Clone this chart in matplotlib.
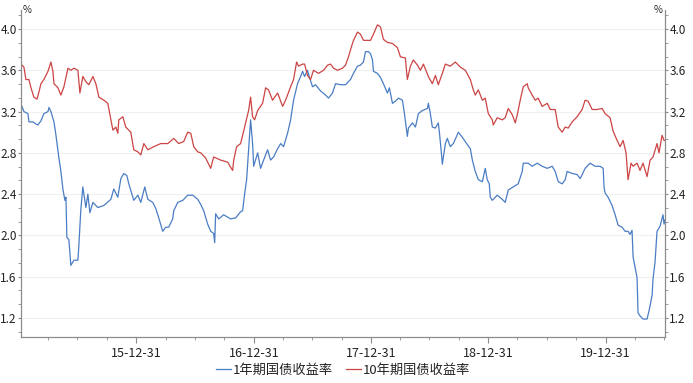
import numpy as np
import pandas as pd
import matplotlib
matplotlib.use("Agg")
import matplotlib.pyplot as plt
import matplotlib.dates as mdates
from matplotlib.ticker import MultipleLocator, FormatStrFormatter, FixedLocator
from matplotlib.lines import Line2D

plt.rcParams['font.family'] = ['Noto Sans CJK SC', 'DejaVu Sans']

# Dates as decimal years, yields in %
t_1y = [2015.021, 2015.038, 2015.072, 2015.081, 2015.115, 2015.140, 2015.157, 2015.183, 2015.208, 2015.243,
        2015.251, 2015.268, 2015.294, 2015.311, 2015.336, 2015.353, 2015.370, 2015.387, 2015.396, 2015.404,
        2015.421, 2015.438, 2015.464, 2015.498, 2015.506, 2015.523, 2015.540, 2015.549, 2015.566, 2015.583,
        2015.600, 2015.626, 2015.668, 2015.719, 2015.779, 2015.804, 2015.838, 2015.864, 2015.889, 2015.915,
        2015.932, 2015.974, 2016.009, 2016.034, 2016.068, 2016.094, 2016.136, 2016.162, 2016.187, 2016.221,
        2016.247, 2016.272, 2016.306, 2016.315, 2016.349, 2016.392, 2016.434, 2016.477, 2016.519, 2016.545,
        2016.570, 2016.604, 2016.630, 2016.655, 2016.664, 2016.672, 2016.698, 2016.740, 2016.800, 2016.843,
        2016.885, 2016.902, 2016.919, 2016.936, 2016.953, 2016.970, 2016.987, 2016.996, 2017.030, 2017.055,
        2017.081, 2017.115, 2017.140, 2017.166, 2017.200, 2017.226, 2017.251, 2017.285, 2017.311, 2017.336,
        2017.370, 2017.396, 2017.413, 2017.430, 2017.455, 2017.472, 2017.498, 2017.523, 2017.566, 2017.609,
        2017.634, 2017.668, 2017.694, 2017.736, 2017.779, 2017.821, 2017.847, 2017.881, 2017.906, 2017.932,
        2017.949, 2017.975, 2017.992, 2018.009, 2018.017, 2018.051, 2018.077, 2018.102, 2018.136, 2018.153,
        2018.179, 2018.204, 2018.230, 2018.264, 2018.281, 2018.306, 2018.315, 2018.349, 2018.375, 2018.400,
        2018.434, 2018.477, 2018.485, 2018.502, 2018.519, 2018.545, 2018.570, 2018.579, 2018.596, 2018.604,
        2018.630, 2018.647, 2018.672, 2018.698, 2018.741, 2018.775, 2018.817, 2018.843, 2018.860, 2018.885,
        2018.911, 2018.945, 2018.970, 2018.987, 2019.004, 2019.013, 2019.030, 2019.072, 2019.115, 2019.140,
        2019.166, 2019.209, 2019.251, 2019.285, 2019.294, 2019.336, 2019.370, 2019.413, 2019.455, 2019.498,
        2019.541, 2019.566, 2019.592, 2019.626, 2019.651, 2019.668, 2019.711, 2019.753, 2019.779, 2019.821,
        2019.864, 2019.906, 2019.949, 2019.975, 2019.983, 2019.992, 2020.017, 2020.051, 2020.077, 2020.102,
        2020.136, 2020.162, 2020.187, 2020.204, 2020.221, 2020.230, 2020.247, 2020.264, 2020.272, 2020.289,
        2020.315, 2020.349, 2020.366, 2020.392, 2020.400, 2020.417, 2020.434, 2020.460, 2020.485, 2020.494,
        2020.502]
yield_1y = [3.25, 3.20, 3.18, 3.10, 3.10, 3.08, 3.07, 3.11, 3.18, 3.20,
            3.24, 3.20, 3.10, 2.97, 2.75, 2.62, 2.45, 2.34, 2.37, 1.98,
            1.96, 1.71, 1.76, 1.76, 1.90, 2.25, 2.47, 2.40, 2.27, 2.40,
            2.22, 2.32, 2.27, 2.29, 2.35, 2.45, 2.37, 2.55, 2.60, 2.58,
            2.50, 2.34, 2.39, 2.32, 2.47, 2.35, 2.32, 2.26, 2.17, 2.04,
            2.08, 2.08, 2.16, 2.24, 2.32, 2.34, 2.39, 2.39, 2.35, 2.30,
            2.24, 2.11, 2.04, 2.02, 1.93, 2.21, 2.16, 2.20, 2.16, 2.17,
            2.23, 2.24, 2.40, 2.54, 2.83, 3.12, 2.89, 2.67, 2.80, 2.65,
            2.73, 2.83, 2.73, 2.76, 2.84, 2.89, 2.86, 2.99, 3.12, 3.31,
            3.47, 3.54, 3.59, 3.54, 3.60, 3.53, 3.44, 3.46, 3.40, 3.36,
            3.33, 3.38, 3.47, 3.46, 3.46, 3.51, 3.57, 3.64, 3.65, 3.68,
            3.78, 3.78, 3.76, 3.70, 3.59, 3.57, 3.53, 3.47, 3.38, 3.43,
            3.28, 3.30, 3.33, 3.31, 3.18, 2.96, 3.04, 3.09, 3.05, 3.18,
            3.21, 3.23, 3.28, 3.18, 3.05, 3.04, 3.09, 3.00, 2.80, 2.69,
            2.89, 2.94, 2.86, 2.89, 3.00, 2.95, 2.88, 2.84, 2.73, 2.62,
            2.54, 2.52, 2.65, 2.54, 2.50, 2.37, 2.34, 2.39, 2.35, 2.32,
            2.44, 2.47, 2.50, 2.62, 2.70, 2.70, 2.67, 2.70, 2.67, 2.65,
            2.67, 2.62, 2.52, 2.50, 2.54, 2.62, 2.60, 2.59, 2.55, 2.65,
            2.70, 2.67, 2.67, 2.65, 2.46, 2.41, 2.37, 2.29, 2.20, 2.10,
            2.08, 2.04, 2.04, 2.01, 2.05, 1.79, 1.69, 1.59, 1.25, 1.22,
            1.19, 1.19, 1.27, 1.42, 1.58, 1.74, 2.04, 2.09, 2.20, 2.11,
            2.15]

t_10y = [2015.021, 2015.038, 2015.055, 2015.081, 2015.098, 2015.123, 2015.149, 2015.166, 2015.183, 2015.208,
         2015.243, 2015.268, 2015.285, 2015.294, 2015.328, 2015.353, 2015.379, 2015.413, 2015.438, 2015.464,
         2015.498, 2015.515, 2015.540, 2015.566, 2015.591, 2015.626, 2015.651, 2015.677, 2015.719, 2015.753,
         2015.779, 2015.796, 2015.821, 2015.838, 2015.847, 2015.881, 2015.906, 2015.949, 2015.974, 2016.009,
         2016.034, 2016.060, 2016.094, 2016.145, 2016.204, 2016.264, 2016.315, 2016.357, 2016.400, 2016.434,
         2016.460, 2016.485, 2016.519, 2016.545, 2016.587, 2016.630, 2016.655, 2016.715, 2016.774, 2016.800,
         2016.817, 2016.826, 2016.851, 2016.885, 2016.928, 2016.953, 2016.970, 2016.987, 2017.004, 2017.030,
         2017.072, 2017.098, 2017.123, 2017.157, 2017.200, 2017.226, 2017.243, 2017.268, 2017.311, 2017.336,
         2017.362, 2017.379, 2017.413, 2017.430, 2017.455, 2017.481, 2017.506, 2017.549, 2017.592, 2017.626,
         2017.651, 2017.677, 2017.711, 2017.753, 2017.779, 2017.804, 2017.830, 2017.847, 2017.881, 2017.906,
         2017.932, 2017.966, 2017.992, 2018.017, 2018.051, 2018.077, 2018.102, 2018.136, 2018.179, 2018.221,
         2018.247, 2018.289, 2018.306, 2018.332, 2018.357, 2018.392, 2018.417, 2018.443, 2018.485, 2018.519,
         2018.545, 2018.570, 2018.604, 2018.630, 2018.672, 2018.715, 2018.758, 2018.800, 2018.843, 2018.868,
         2018.885, 2018.911, 2018.945, 2018.970, 2018.996, 2019.030, 2019.038, 2019.072, 2019.115, 2019.140,
         2019.166, 2019.200, 2019.226, 2019.243, 2019.268, 2019.294, 2019.328, 2019.336, 2019.370, 2019.396,
         2019.421, 2019.455, 2019.498, 2019.524, 2019.566, 2019.592, 2019.626, 2019.651, 2019.677, 2019.711,
         2019.753, 2019.796, 2019.821, 2019.847, 2019.881, 2019.923, 2019.966, 2019.992, 2020.034, 2020.060,
         2020.094, 2020.119, 2020.145, 2020.170, 2020.187, 2020.213, 2020.230, 2020.264, 2020.289, 2020.315,
         2020.349, 2020.375, 2020.400, 2020.434, 2020.451, 2020.477, 2020.494, 2020.502]
yield_10y = [3.65, 3.63, 3.51, 3.51, 3.43, 3.34, 3.32, 3.39, 3.47, 3.51,
             3.59, 3.68, 3.59, 3.47, 3.43, 3.36, 3.44, 3.62, 3.60, 3.62,
             3.60, 3.38, 3.54, 3.49, 3.46, 3.54, 3.47, 3.34, 3.31, 3.28,
             3.12, 3.02, 3.05, 2.99, 3.12, 3.15, 3.05, 3.00, 2.83, 2.81,
             2.78, 2.89, 2.83, 2.86, 2.89, 2.89, 2.94, 2.89, 2.91, 3.00,
             2.99, 2.86, 2.81, 2.80, 2.75, 2.65, 2.76, 2.73, 2.71, 2.66,
             2.63, 2.73, 2.86, 2.89, 3.09, 3.21, 3.34, 3.15, 3.12, 3.21,
             3.28, 3.43, 3.41, 3.31, 3.38, 3.30, 3.25, 3.31, 3.44, 3.51,
             3.68, 3.64, 3.66, 3.66, 3.55, 3.51, 3.60, 3.57, 3.60, 3.65,
             3.66, 3.62, 3.60, 3.62, 3.65, 3.73, 3.83, 3.89, 3.97, 3.95,
             3.89, 3.89, 3.89, 3.95, 4.04, 4.02, 3.90, 3.87, 3.86, 3.82,
             3.73, 3.72, 3.51, 3.64, 3.70, 3.65, 3.60, 3.66, 3.54, 3.47,
             3.55, 3.46, 3.57, 3.66, 3.64, 3.68, 3.63, 3.60, 3.51, 3.41,
             3.36, 3.41, 3.31, 3.33, 3.18, 3.12, 3.07, 3.14, 3.12, 3.14,
             3.23, 3.17, 3.09, 3.17, 3.31, 3.44, 3.47, 3.43, 3.36, 3.31,
             3.33, 3.25, 3.28, 3.22, 3.22, 3.05, 3.00, 3.05, 3.04, 3.10,
             3.15, 3.22, 3.31, 3.30, 3.22, 3.22, 3.23, 3.18, 3.14, 3.01,
             2.92, 2.86, 2.92, 2.80, 2.54, 2.70, 2.67, 2.70, 2.63, 2.70,
             2.57, 2.73, 2.76, 2.89, 2.80, 2.97, 2.92, 2.92]

series_names = ["1年期国债收益率", "10年期国债收益率"]
series_colors = ["#4A7DC4", "#CC4444"]


def to_dates(t):
    t = np.asarray(t, dtype=float)
    return pd.Timestamp("2015-01-01") + pd.to_timedelta((t - 2015) * 365.25, unit="D")


fig = plt.figure(figsize=(6.93, 3.83), dpi=100)
ax = fig.add_axes([21 / 693, 1 - 337 / 383, 644 / 693, 327 / 383])

ax.plot(to_dates(t_1y), yield_1y, color=series_colors[0], lw=0.9)
ax.plot(to_dates(t_10y), yield_10y, color=series_colors[1], lw=0.9)

# axes limits
ax.set_ylim(1.016, 4.184)
ax.set_xlim(to_dates([2015.013])[0], to_dates([2020.502])[0])

# y ticks: major every 0.4, minor every 0.4/3, labels both sides
ax.yaxis.set_major_locator(MultipleLocator(0.4))
ax.yaxis.set_minor_locator(MultipleLocator(0.4 / 3))
ax.yaxis.set_major_formatter(FormatStrFormatter('%.1f'))
ax.tick_params(axis='y', which='both', left=True, right=True, labelleft=True, labelright=True)
ax.tick_params(axis='y', which='major', length=2.5, pad=0.6, labelsize=8.5)
ax.tick_params(axis='y', which='minor', length=2)

# x ticks: year ends, minor at quarter ends
year_ends = pd.date_range("2015-12-31", "2019-12-31", freq="YE")
quarter_ends = pd.date_range("2015-03-31", "2020-06-30", freq="QE")
ax.xaxis.set_major_locator(FixedLocator(mdates.date2num(year_ends)))
ax.xaxis.set_minor_locator(FixedLocator(mdates.date2num(quarter_ends)))
ax.xaxis.set_major_formatter(mdates.DateFormatter('%y-%m-%d'))
ax.tick_params(axis='x', which='major', length=4, pad=3, labelsize=9)
ax.tick_params(axis='x', which='minor', length=2.5)

ax.tick_params(which='both', color='#8c8c8c', labelcolor='#222222')

for side in ['left', 'right', 'bottom']:
    ax.spines[side].set_color('#8c8c8c')
    ax.spines[side].set_linewidth(0.9)
ax.spines['top'].set_visible(False)

ax.yaxis.grid(True, which='major', color='#f0f0f0', lw=0.8)
ax.set_axisbelow(True)

# unit labels at top of each axis
fig.text(23 / 693, 1 - 10 / 383, '%', fontsize=7, ha='left', va='center', color='#222222')
fig.text(663 / 693, 1 - 10 / 383, '%', fontsize=7, ha='right', va='center', color='#222222')

handles = [Line2D([], [], color=c, lw=0.9) for c in series_colors]
fig.legend(handles, series_names, loc='center', bbox_to_anchor=(0.495, 1 - 370 / 383), ncol=2,
           frameon=False, fontsize=9.5, handlelength=1.15, handletextpad=0.1, columnspacing=1.0,
           labelcolor='#222222')

fig.savefig("out.png", dpi=100)
